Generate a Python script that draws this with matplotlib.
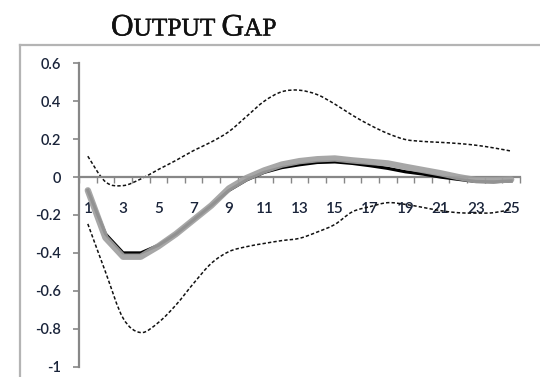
import matplotlib
matplotlib.use("Agg")
import matplotlib.pyplot as plt
import matplotlib.patheffects as pe
from matplotlib.lines import Line2D
from matplotlib.path import Path
from matplotlib.patches import PathPatch

periods = list(range(1, 26))
median_black = [-0.07, -0.30, -0.40, -0.40, -0.36, -0.30, -0.225, -0.15, -0.07, -0.015,
                0.025, 0.05, 0.065, 0.077, 0.08, 0.072, 0.06, 0.046, 0.028, 0.016,
                0.0, -0.012, -0.023, -0.025, -0.02]
mean_gray = [-0.07, -0.32, -0.42, -0.42, -0.365, -0.30, -0.225, -0.15, -0.06, -0.005,
             0.035, 0.066, 0.084, 0.094, 0.098, 0.088, 0.08, 0.072, 0.054, 0.037,
             0.02, 0.0, -0.016, -0.017, -0.013]
upper_band = [0.11, -0.025, -0.045, -0.01, 0.04, 0.088, 0.14, 0.185, 0.24, 0.32,
              0.40, 0.45, 0.458, 0.435, 0.385, 0.326, 0.274, 0.23, 0.198, 0.188,
              0.183, 0.177, 0.168, 0.154, 0.137]
lower_band = [-0.247, -0.50, -0.744, -0.82, -0.767, -0.674, -0.56, -0.455, -0.393, -0.367,
              -0.35, -0.335, -0.323, -0.29, -0.25, -0.183, -0.156, -0.135, -0.144, -0.16,
              -0.177, -0.188, -0.19, -0.188, -0.17]
y_ticks = [0.6, 0.4, 0.2, 0, -0.2, -0.4, -0.6, -0.8, -1]
x_tick_labels = [1, 3, 5, 7, 9, 11, 13, 15, 17, 19, 21, 23, 25]


def smooth_path(xs, ys, tension=1 / 6):
    """Excel-style smoothed line: cubic Bezier segments through the data points."""
    verts = [(xs[0], ys[0])]
    codes = [Path.MOVETO]
    n = len(xs)
    for i in range(n - 1):
        x0, y0 = (xs[i - 1], ys[i - 1]) if i > 0 else (xs[i], ys[i])
        x1, y1 = xs[i], ys[i]
        x2, y2 = xs[i + 1], ys[i + 1]
        x3, y3 = (xs[i + 2], ys[i + 2]) if i + 2 < n else (x2, y2)
        c1 = (x1 + (x2 - x0) * tension, y1 + (y2 - y0) * tension)
        c2 = (x2 - (x3 - x1) * tension, y2 - (y3 - y1) * tension)
        verts += [c1, c2, (x2, y2)]
        codes += [Path.CURVE4] * 3
    return Path(verts, codes)


W, H = 540, 377
fig = plt.figure(figsize=(W / 100, H / 100), dpi=100)

# outer frame (gray lines at top and left)
frame_col = "#b4b4b4"
fig.add_artist(Line2D([20 / W, 1.0], [1 - 45 / H, 1 - 45 / H], transform=fig.transFigure,
                      color=frame_col, lw=1.6))
fig.add_artist(Line2D([20 / W, 20 / W], [0, 1 - 45 / H], transform=fig.transFigure,
                      color=frame_col, lw=1.6))

ax = fig.add_axes([79 / W, 10.3 / H, (520 - 79) / W, (366.7 - 63.3) / H])
ax.set_xlim(0.5, 25.5)
ax.set_ylim(-1, 0.6)

axis_col = "#878787"
for s in ["top", "right"]:
    ax.spines[s].set_visible(False)
ax.spines["left"].set_color(axis_col)
ax.spines["left"].set_linewidth(1.6)
ax.spines["bottom"].set_position(("data", 0))
ax.spines["bottom"].set_color(axis_col)
ax.spines["bottom"].set_linewidth(1.6)

ax.set_yticks(y_ticks)
ax.set_yticklabels(["-1" if v == -1 else ("0" if v == 0 else f"{v:.1f}") for v in y_ticks])
ax.tick_params(axis="y", direction="out", length=4, width=1.2, color=axis_col,
               labelsize=10.5, labelcolor="#1a243a", pad=9)

# minor ticks at category boundaries, labels at odd categories
ax.set_xticks([p + 0.5 for p in [0] + periods], minor=True)
ax.set_xticks(x_tick_labels)
ax.set_xticklabels([str(v) for v in x_tick_labels])
ax.tick_params(axis="x", which="major", length=0, labelsize=11, labelcolor="#1a243a", pad=18)
ax.tick_params(axis="x", which="minor", direction="out", length=4, width=1.0, color=axis_col)
for lab in ax.get_xticklabels() + ax.get_yticklabels():
    lab.set_fontfamily("Lato")
    lab.set_fontweight("semibold")

for band in (upper_band, lower_band):
    ax.add_patch(PathPatch(smooth_path(periods, band), facecolor="none", edgecolor="#111111",
                           lw=1.1, linestyle=(0, (2.2, 1.4)), zorder=2))
ax.plot(periods, median_black, color="black", lw=2.3, zorder=3, solid_joinstyle="round")
ax.plot(periods, mean_gray, color="#a0a0a0", lw=4.6, alpha=0.92, zorder=4,
        solid_joinstyle="round", solid_capstyle="round")

# small-caps title
renderer = fig.canvas.get_renderer()
pieces = [("O", 22.5), ("UTPUT", 18.3), (" ", 18.3), ("G", 22.5), ("AP", 18.3)]
x_px = 111.0
y_fig = 1 - 35.5 / H
for txt, size in pieces:
    t = fig.text(x_px / W, y_fig, txt, fontsize=size, family="Liberation Serif",
                 weight="normal", color="#111111", ha="left", va="baseline",
                 path_effects=[pe.withStroke(linewidth=0.35, foreground="#111111")])
    bb = t.get_window_extent(renderer)
    x_px = bb.x1

fig.savefig("out.png", dpi=100)
